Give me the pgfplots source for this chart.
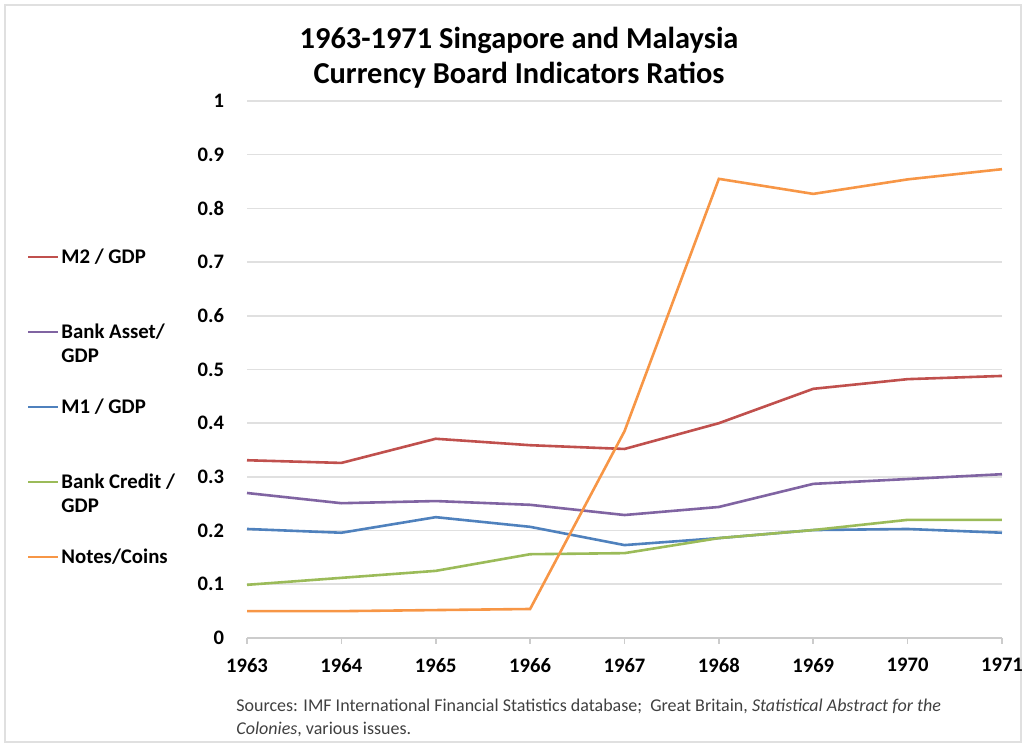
\documentclass[border=0pt]{standalone}
\usepackage{pgfplots}
\pgfplotsset{compat=1.18}
\usepackage{fontspec}
\setmainfont{Carlito}
\definecolor{cMtwo}{HTML}{C0504D}
\definecolor{cAsset}{HTML}{8064A2}
\definecolor{cMone}{HTML}{4F81BD}
\definecolor{cCredit}{HTML}{9BBB59}
\definecolor{cNotes}{HTML}{F79646}
\begin{document}
\begin{tikzpicture}
\path[use as bounding box] (0,0) rectangle (513pt,373.5pt);
\draw[black!12, line width=0.8pt] (2.5pt,2.5pt) rectangle (510.5pt,371pt);
\node[align=center, font=\fontsize{15.2pt}{17.5pt}\selectfont\bfseries] at (259.5pt,344.75pt)
  {1963-1971 Singapore and Malaysia\\Currency Board Indicators Ratios};
\node[anchor=base west, align=left, text=black!75, font=\fontsize{9pt}{11.5pt}\selectfont, inner sep=0pt] at (118pt,6pt)
  {Sources: IMF International Financial Statistics database;\ \ Great Britain, \textit{Statistical Abstract for the}\\\textit{Colonies}, various issues.};
\begin{axis}[
  at={(123.5pt,54.5pt)}, anchor=south west, scale only axis,
  width=377.5pt, height=268.5pt,
  xmin=1963, xmax=1971, ymin=0, ymax=1,
  xtick={1963,1964,1965,1966,1967,1968,1969,1970,1971},
  xticklabels={1963,1964,1965,1966,1967,1968,1969,1970,1971},
  ytick={0,0.1,0.2,0.3,0.4,0.5,0.6,0.7,0.8,0.9,1},
  yticklabel style={/pgf/number format/fixed, /pgf/number format/precision=1, xshift=-5pt},
  /pgf/number format/assume math mode=true,
  tick label style={font=\fontsize{10.3pt}{12pt}\selectfont\bfseries},
  xticklabel style={yshift=-3.5pt},
  ymajorgrids, grid style={black!12, line width=0.8pt},
  axis x line*=bottom, axis y line*=left,
  x axis line style={draw=black!20, line width=0.8pt, -},
  y axis line style={draw=none},
  xtick style={draw=black!20, line width=0.8pt},
  ytick style={draw=none},
  tick align=outside, major tick length=3pt,
  xtick pos=bottom,
  legend cell align=left,
  legend style={draw=none, fill=none, at={(-0.2914,0.7336)}, anchor=north west,
    inner sep=0pt, row sep=24.7pt,
    nodes={inner xsep=1pt},
    font=\fontsize{10.4pt}{12pt}\selectfont\bfseries},
  legend image code/.code={\draw[#1, line width=1pt] (0pt,0pt) -- (15pt,0pt);},
  every axis plot/.append style={line width=1.3pt},
  clip=false,
]
\addplot[cMtwo] coordinates {(1963,0.331) (1964,0.326) (1965,0.371) (1966,0.359) (1967,0.352) (1968,0.400) (1969,0.464) (1970,0.482) (1971,0.488)};
\addlegendentry{\parbox[t]{75pt}{M2 / GDP}}
\addplot[cAsset] coordinates {(1963,0.270) (1964,0.251) (1965,0.255) (1966,0.248) (1967,0.229) (1968,0.244) (1969,0.287) (1970,0.296) (1971,0.305)};
\addlegendentry{\parbox[t]{75pt}{Bank Asset/\\GDP}}
\addplot[cMone] coordinates {(1963,0.203) (1964,0.196) (1965,0.225) (1966,0.207) (1967,0.173) (1968,0.186) (1969,0.201) (1970,0.203) (1971,0.196)};
\addlegendentry{\parbox[t]{75pt}{M1 / GDP}}
\addplot[cCredit] coordinates {(1963,0.099) (1964,0.112) (1965,0.125) (1966,0.156) (1967,0.158) (1968,0.186) (1969,0.201) (1970,0.220) (1971,0.220)};
\addlegendentry{\parbox[t]{75pt}{Bank Credit /\\GDP}}
\addplot[cNotes] coordinates {(1963,0.050) (1964,0.050) (1965,0.052) (1966,0.054) (1967,0.385) (1968,0.855) (1969,0.827) (1970,0.854) (1971,0.873)};
\addlegendentry{\parbox[t]{75pt}{Notes/Coins}}
\end{axis}
\end{tikzpicture}
\end{document}
